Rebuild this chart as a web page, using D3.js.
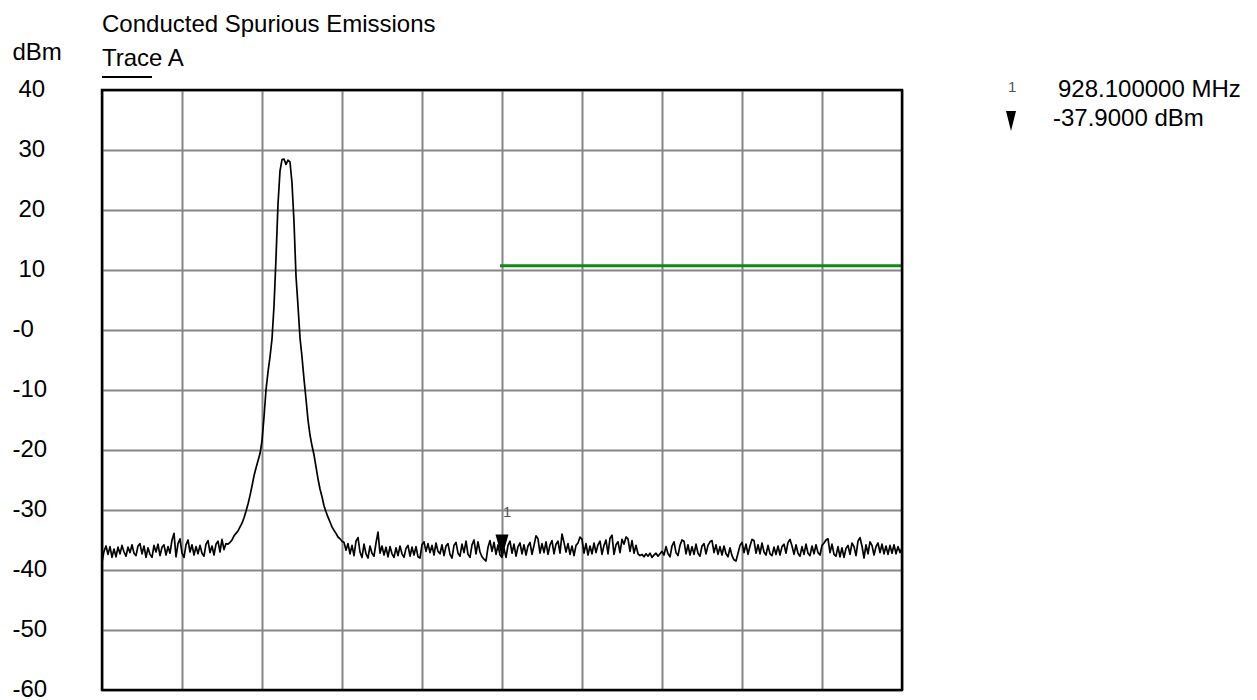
<!DOCTYPE html>
<html>
<head>
<meta charset="utf-8">
<script src="https://cdn.jsdelivr.net/npm/d3@7/dist/d3.min.js"></script>
<style>
  html, body { margin: 0; padding: 0; background: #fff; }
  svg { display: block; }
  text { font-family: "Liberation Sans", Arial, Helvetica, sans-serif; fill: #000; }
</style>
</head>
<body>
<svg id="chart" width="1257" height="700"></svg>
<script>
// ---- data ----
const title = "Conducted Spurious Emissions";
const unitLabel = "dBm";
const traceName = "Trace A";
const yTickValues = [40, 30, 20, 10, 0, -10, -20, -30, -40, -50, -60];
const yTickLabels = ["40", "30", "20", "10", "-0", "-10", "-20", "-30", "-40", "-50", "-60"];
const xDivisionPoints = [0, 40, 80, 120, 160, 200, 240, 280, 320, 360, 400]; // sweep point index of each vertical division
const markerIndex = 200;
const markerNumber = "1";
const markerFreqText = "928.100000 MHz";
const markerLevelText = "-37.9000 dBm";
const markerLevel = -37.9;
const limitStartIndex = 199;
const limitEndIndex = 400;
const limitLevel = 10.7;

// trace A, dBm, 401 sweep points
const traceA = [
  -38.7,-36.9,-36.0,-37.4,-36.1,-37.9,-36.5,-37.8,-36.2,-37.3,
  -35.9,-37.0,-37.7,-36.2,-37.1,-35.8,-37.2,-37.6,-36.0,-35.6,
  -37.3,-36.0,-37.9,-36.3,-37.4,-37.9,-35.9,-37.0,-35.7,-37.6,
  -36.2,-35.8,-37.5,-36.1,-37.2,-35.0,-33.9,-37.8,-35.6,-34.8,
  -37.2,-37.9,-35.8,-35.0,-37.0,-35.8,-37.5,-36.1,-37.3,-35.9,
  -37.2,-37.7,-35.7,-35.1,-37.1,-36.0,-37.5,-35.7,-35.2,-37.0,
  -34.9,-36.6,-35.6,-35.7,-35.4,-35.0,-34.3,-33.9,-33.5,-32.8,
  -32.2,-31.3,-30.2,-29.0,-27.6,-26.0,-24.3,-23.0,-21.8,-20.6,
  -18.5,-14.5,-10.0,-7.0,-4.5,-1.5,4.0,12.0,21.0,26.5,
  28.4,28.5,27.6,28.3,28.0,24.5,18.0,9.0,4.0,-1.3,
  -4.5,-8.2,-11.5,-15.0,-17.5,-19.3,-20.8,-22.8,-24.8,-26.5,
  -27.8,-29.3,-30.3,-31.2,-32.0,-32.8,-33.4,-33.9,-34.5,-34.8,
  -35.2,-35.4,-36.7,-35.6,-37.3,-35.9,-37.6,-35.2,-34.6,-37.0,
  -37.9,-35.7,-37.3,-38.0,-36.0,-37.2,-37.7,-35.5,-33.7,-37.2,
  -36.0,-37.5,-36.2,-37.8,-36.1,-37.3,-37.9,-36.3,-37.6,-36.0,
  -37.3,-37.9,-36.4,-35.9,-37.7,-36.2,-37.5,-36.1,-37.8,-38.0,
  -35.8,-35.3,-36.9,-35.6,-37.1,-35.9,-37.5,-35.5,-36.9,-37.3,
  -35.8,-37.6,-36.0,-35.6,-37.4,-38.0,-35.9,-35.4,-37.2,-37.7,
  -35.7,-37.1,-35.2,-37.4,-37.9,-35.8,-35.0,-37.3,-35.3,-37.0,
  -37.8,-38.2,-38.5,-36.2,-35.1,-36.9,-35.4,-37.4,-35.8,-37.5,
  -37.9,-36.4,-37.9,-35.9,-35.2,-37.2,-35.7,-37.7,-36.1,-35.5,
  -37.3,-35.8,-37.5,-36.0,-35.4,-37.4,-35.9,-34.3,-34.8,-37.2,
  -35.6,-37.1,-35.3,-37.4,-35.8,-35.1,-37.3,-35.7,-35.2,-37.2,
  -34.0,-35.4,-37.0,-35.6,-37.4,-36.0,-37.6,-35.9,-35.5,-34.5,
  -34.9,-37.2,-35.6,-37.5,-36.0,-37.3,-35.5,-37.1,-35.8,-35.2,
  -37.4,-35.9,-35.0,-37.3,-34.7,-34.2,-37.4,-35.8,-35.3,-37.1,
  -34.9,-35.7,-34.5,-34.8,-36.9,-35.1,-37.2,-35.9,-37.3,-37.6,
  -37.4,-37.8,-37.3,-37.7,-37.2,-37.9,-37.5,-37.2,-37.7,-37.3,
  -36.9,-37.5,-36.1,-37.3,-37.8,-36.0,-35.3,-37.1,-37.6,-35.9,
  -35.0,-35.2,-37.3,-35.8,-37.5,-36.1,-37.4,-35.7,-37.2,-37.7,
  -36.0,-35.6,-37.3,-35.9,-35.3,-35.1,-37.1,-35.8,-37.4,-36.1,
  -37.5,-36.0,-37.3,-37.8,-36.3,-37.6,-38.3,-38.5,-37.2,-35.9,
  -35.4,-37.1,-35.7,-37.4,-36.0,-34.9,-35.1,-37.2,-35.8,-37.3,
  -35.5,-37.0,-37.5,-35.9,-37.3,-37.6,-36.2,-37.4,-36.0,-37.5,
  -36.1,-35.7,-37.2,-35.4,-34.9,-36.0,-37.4,-35.8,-37.2,-37.7,
  -36.1,-37.4,-35.7,-37.2,-37.6,-36.0,-37.3,-35.8,-37.1,-37.5,
  -35.9,-35.5,-35.0,-34.8,-37.1,-35.7,-37.4,-37.7,-36.1,-37.8,
  -36.3,-37.9,-36.4,-35.9,-37.4,-35.5,-36.1,-37.6,-35.2,-34.6,
  -36.0,-38.0,-35.8,-37.3,-35.3,-35.9,-37.5,-36.1,-35.5,-37.1,
  -35.7,-37.3,-36.0,-37.4,-35.9,-37.2,-35.8,-37.3,-36.1,-37.1,
  -36.3
];

// ---- layout ----
const FONT = 24;
const plot = { left: 102, right: 902, top: 90, bottom: 690 };

const svg = d3.select("#chart");
const x = d3.scaleLinear().domain([0, traceA.length - 1]).range([plot.left, plot.right]);
const y = d3.scaleLinear().domain([-60, 40]).range([plot.bottom, plot.top]);

// grid (vertical)
svg.append("g")
  .attr("transform", `translate(0,${plot.bottom})`)
  .call(d3.axisBottom(x).tickValues(xDivisionPoints).tickSize(-(plot.bottom - plot.top)).tickFormat(""))
  .call(g => g.select(".domain").remove())
  .call(g => g.selectAll("line").attr("stroke", "#858585").attr("stroke-width", 2));

// grid (horizontal)
svg.append("g")
  .attr("transform", `translate(${plot.left},0)`)
  .call(d3.axisLeft(y).tickValues(yTickValues).tickSize(-(plot.right - plot.left)).tickFormat(""))
  .call(g => g.select(".domain").remove())
  .call(g => g.selectAll("line").attr("stroke", "#858585").attr("stroke-width", 2));

// y tick labels
svg.append("g").selectAll("text")
  .data(yTickValues)
  .join("text")
  .attr("x", (d, i) => yTickLabels[i].startsWith("-") ? 12.5 : 18.5)
  .attr("y", d => y(d) + 7)
  .attr("font-size", FONT)
  .text((d, i) => yTickLabels[i]);

// limit line
svg.append("line")
  .attr("x1", x(limitStartIndex)).attr("x2", x(limitEndIndex))
  .attr("y1", y(limitLevel)).attr("y2", y(limitLevel))
  .attr("stroke", "#118a11").attr("stroke-width", 3);

// clip
svg.append("clipPath").attr("id", "clip")
  .append("rect").attr("x", plot.left).attr("y", plot.top)
  .attr("width", plot.right - plot.left).attr("height", plot.bottom - plot.top);

// trace
const line = d3.line().x((d, i) => x(i)).y(d => y(d));
svg.append("path")
  .datum(traceA)
  .attr("clip-path", "url(#clip)")
  .attr("fill", "none")
  .attr("stroke", "#000")
  .attr("stroke-width", 1.7)
  .attr("stroke-linejoin", "round")
  .attr("d", line);

// plot border
svg.append("rect")
  .attr("x", plot.left).attr("y", plot.top)
  .attr("width", plot.right - plot.left).attr("height", plot.bottom - plot.top)
  .attr("fill", "none").attr("stroke", "#000").attr("stroke-width", 2.5);

// marker on trace
const mx = x(markerIndex), my = y(markerLevel);
svg.append("path")
  .attr("d", `M${mx - 6.5},${my - 23}L${mx + 6.5},${my - 23}L${mx},${my}Z`)
  .attr("fill", "#000");
svg.append("text")
  .attr("x", mx + 1).attr("y", my - 40)
  .attr("font-size", 15).style("fill", "#555")
  .text(markerNumber);

// titles
svg.append("text").attr("x", plot.left).attr("y", 32).attr("font-size", FONT).text(title);
svg.append("text").attr("x", 12.5).attr("y", 60).attr("font-size", FONT).text(unitLabel);
svg.append("text").attr("x", plot.left).attr("y", 66).attr("font-size", FONT).text(traceName);
svg.append("line").attr("x1", plot.left).attr("x2", 152).attr("y1", 77).attr("y2", 77)
  .attr("stroke", "#000").attr("stroke-width", 2);

// marker readout
svg.append("text").attr("x", 1008).attr("y", 92).attr("font-size", 15).style("fill", "#555").text(markerNumber);
svg.append("text").attr("x", 1058).attr("y", 97).attr("font-size", FONT).text(markerFreqText);
svg.append("path").attr("d", "M1006,111L1016,111L1011,131Z").attr("fill", "#000");
svg.append("text").attr("x", 1053).attr("y", 126).attr("font-size", FONT).text(markerLevelText);
</script>
</body>
</html>
